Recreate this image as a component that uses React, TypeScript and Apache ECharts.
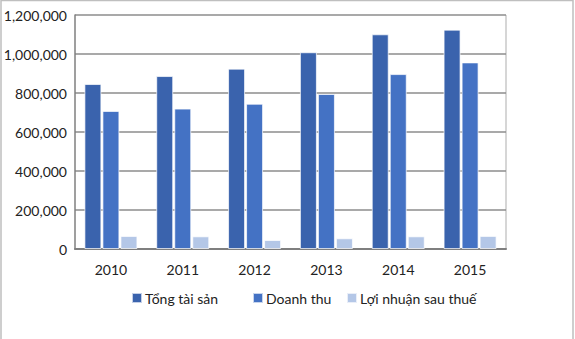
import React, { useEffect, useRef } from "react";
import * as echarts from "echarts";

const categories = ["2010", "2011", "2012", "2013", "2014", "2015"];
const tongTaiSan = [846000, 887000, 925000, 1009000, 1101000, 1125000];
const doanhThu = [708000, 720000, 745000, 795000, 897000, 957000];
const loiNhuan = [67000, 65000, 46000, 55000, 65000, 67000];
const seriesNames = ["Tổng tài sản", "Doanh thu", "Lợi nhuận sau thuế"];
const legendLefts = [131, 252, 346];

const FONT = "Lato, 'Open Sans', sans-serif";

export default function App() {
  const ref = useRef<HTMLDivElement>(null);
  useEffect(() => {
    if (!ref.current) return;
    const chart = echarts.init(ref.current, undefined, { renderer: "svg" });
    const barStyle = (color: string) => ({
      color,
      borderColor: "rgba(255,255,255,0.7)",
      borderWidth: 1,
    });
    chart.setOption({
      animation: false,
      backgroundColor: "#ffffff",
      textStyle: { fontFamily: FONT },
      grid: { left: 75, right: 69, top: 15, bottom: 90, containLabel: false },
      legend: seriesNames.map((n, i) => ({
        data: [n],
        top: 291,
        left: legendLefts[i],
        padding: 0,
        itemWidth: 10,
        itemHeight: 10,
        icon: "rect",
        textStyle: { fontSize: 14, color: "#222", fontFamily: FONT, padding: [0, 0, 0, -2] },
      })),
      xAxis: {
        type: "category",
        data: categories,
        axisLine: { lineStyle: { color: "#7f7f7f", width: 2 } },
        axisTick: { show: false },
        axisLabel: { fontSize: 14, color: "#222", margin: 13, fontFamily: FONT },
      },
      yAxis: {
        type: "value",
        min: 0,
        max: 1200000,
        interval: 200000,
        axisLine: { show: true, lineStyle: { color: "#7f7f7f", width: 1.5 } },
        axisTick: { show: false },
        axisLabel: {
          fontSize: 14,
          color: "#222",
          margin: 8,
          fontFamily: FONT,
          formatter: (v: number) => v.toLocaleString("en-US"),
        },
        splitLine: { lineStyle: { color: "#8c8c8c", width: 1.5 } },
      },
      graphic: [
        {
          type: "rect",
          shape: { x: 1, y: 0.5, width: 572, height: 345 },
          style: { fill: "none", stroke: "#bfbfbf", lineWidth: 1.5 },
          silent: true,
        },
        {
          type: "line",
          shape: { x1: 506, y1: 15, x2: 506, y2: 249 },
          style: { stroke: "#c8c8c8", lineWidth: 1.5 },
          silent: true,
        },
      ],
      series: [
        {
          name: seriesNames[0],
          type: "bar",
          data: tongTaiSan,
          itemStyle: barStyle("#3a63ad"),
          barWidth: 17,
          barGap: "6%",
        },
        {
          name: seriesNames[1],
          type: "bar",
          data: doanhThu,
          itemStyle: barStyle("#4472c4"),
          barWidth: 17,
          barGap: "6%",
        },
        {
          name: seriesNames[2],
          type: "bar",
          data: loiNhuan,
          itemStyle: barStyle("#b4c7e7"),
          barWidth: 17,
          barGap: "6%",
        },
      ],
    });
    return () => chart.dispose();
  }, []);
  return (
    <div
      ref={ref}
      style={{ position: "fixed", left: 0, top: 0, width: 575, height: 339, background: "#fff" }}
    />
  );
}
